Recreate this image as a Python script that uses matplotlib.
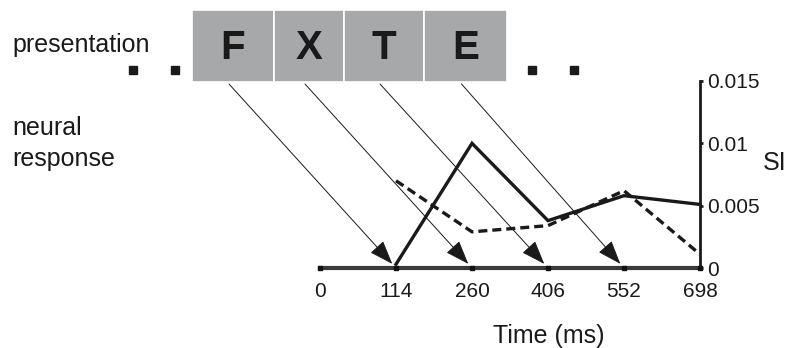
import matplotlib
matplotlib.use("Agg")
import matplotlib.pyplot as plt
import numpy as np

plt.rcParams['font.family'] = ['Liberation Sans', 'DejaVu Sans']

# ---- data ----
time_labels = ["0", "114", "260", "406", "552", "698"]
letters = ["F", "X", "T", "E"]
letter_widths = [82, 70, 80, 83]          # box widths, px
solid_x = [1, 2, 3, 4, 5]
solid_si = [0.0003, 0.0100, 0.0038, 0.0058, 0.0051]
dashed_x = [1, 2, 3, 4, 5]
dashed_si = [0.0070, 0.0029, 0.0034, 0.0062, 0.0011]
si_ticks = [0, 0.005, 0.01, 0.015]
si_labels = ["0", "0.005", "0.01", "0.015"]

W, H = 792, 348
fig = plt.figure(figsize=(W / 100, H / 100), dpi=100)

# background axes in pixel units for the decoration
bg = fig.add_axes([0, 0, 1, 1])
bg.set_xlim(0, W)
bg.set_ylim(H, 0)
bg.axis("off")

# data axes
x0, x1, y0, y1 = 320, 700, 268, 81
ax = fig.add_axes([x0 / W, (H - y0) / H, (x1 - x0) / W, (y0 - y1) / H])
ax.patch.set_visible(False)
ax.set_xlim(0, 5)
ax.set_ylim(0, 0.015)

# ======== presentation boxes ========
box_left, box_top, box_bot = 192, 10, 82
lefts = box_left + np.concatenate([[0], np.cumsum(letter_widths)[:-1]])
centers = []
for L, w, ch in zip(lefts, letter_widths, letters):
    bg.add_patch(plt.Rectangle((L, box_top), w, box_bot - box_top,
                               facecolor="#a7a8aa", edgecolor="white", lw=1.2))
    bg.text(L + w / 2, 48, ch, ha="center", va="center", fontsize=29,
            fontweight="bold", color="#1a1a1a")
    centers.append(L + w / 2)
box_right = lefts[-1] + letter_widths[-1]

# dots before / after
for dx in [box_left - 59, box_left - 17, box_right + 25, box_right + 67]:
    bg.plot(dx, 70, "s", ms=6, color="#1a1a1a")

bg.text(12, 52, "presentation", fontsize=18, va="baseline", color="#1a1a1a")
bg.text(12, 135, "neural", fontsize=18, va="baseline", color="#1a1a1a")
bg.text(12, 166, "response", fontsize=18, va="baseline", color="#1a1a1a")
bg.text(763, 163, "SI", fontsize=18, va="center", ha="left", color="#1a1a1a")
bg.text(549, 343, "Time (ms)", fontsize=18, va="baseline", ha="center", color="#1a1a1a")

# ======== arrows from letters to time ticks ========
for i, cx in enumerate(centers):
    bg.annotate("", xy=(i + 1, 0), xycoords=ax.transData,
                xytext=(cx - 4, 84), textcoords="data",
                arrowprops=dict(arrowstyle="-|>,head_length=1.5,head_width=0.55",
                                mutation_scale=10, lw=0.7, color="#1a1a1a",
                                shrinkA=0, shrinkB=4))

# ======== SI curves ========
ax.plot(solid_x, solid_si, color="#1a1a1a", lw=2.4, solid_joinstyle="miter",
        clip_on=False, zorder=3)
ax.plot(dashed_x, dashed_si, color="#1a1a1a", lw=2.4, dashes=(2.7, 1.5),
        clip_on=False, zorder=3)

# ======== axes styling ========
for s in ["top", "left"]:
    ax.spines[s].set_visible(False)
ax.spines["bottom"].set_color("#3a3a3a")
ax.spines["bottom"].set_linewidth(3)
ax.spines["right"].set_color("#1a1a1a")
ax.spines["right"].set_linewidth(2)

ax.set_xticks(range(len(time_labels)))
ax.set_xticklabels(time_labels)
ax.tick_params(axis="x", length=0, pad=10, labelsize=15, colors="#1a1a1a")
ax.plot(range(len(time_labels)), np.zeros(len(time_labels)), "s", ms=3,
        color="#111111", clip_on=False, zorder=4)

ax.yaxis.tick_right()
ax.set_yticks(si_ticks)
ax.set_yticklabels(si_labels)
ax.tick_params(axis="y", length=2, width=2, direction="out", pad=3,
               labelsize=15, colors="#1a1a1a")

fig.savefig("out.png", dpi=100)
